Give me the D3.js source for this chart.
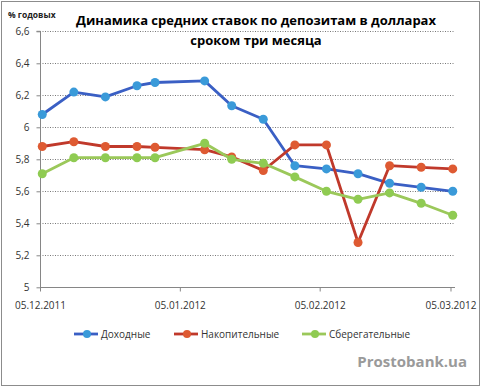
<!DOCTYPE html>
<html>
<head>
<meta charset="utf-8">
<script src="https://cdn.jsdelivr.net/npm/d3@7"></script>
<style>
  body { margin: 0; background: #fff; }
  svg { display: block; font-family: "Open Sans", sans-serif; }
</style>
</head>
<body>
<svg id="chart" width="483" height="388"></svg>
<script>
const dates = ["2011-12-05", "2011-12-12", "2011-12-19", "2011-12-26", "2011-12-30",
    "2012-01-10", "2012-01-16", "2012-01-23", "2012-01-30", "2012-02-06",
    "2012-02-13", "2012-02-20", "2012-02-27", "2012-03-05"];

const dokhodnye = [6.08, 6.22, 6.19, 6.26, 6.28, 6.29, 6.135, 6.05, 5.76, 5.74, 5.71, 5.65, 5.625, 5.60];
const nakopitelnye = [5.88, 5.91, 5.88, 5.88, 5.875, 5.86, 5.815, 5.73, 5.89, 5.89, 5.28, 5.76, 5.75, 5.74];
const sberegatelnye = [5.71, 5.81, 5.81, 5.81, 5.81, 5.90, 5.80, 5.775, 5.69, 5.60, 5.55, 5.59, 5.525, 5.45];

const yTicks = [5, 5.2, 5.4, 5.6, 5.8, 6, 6.2, 6.4, 6.6];
const xTicks = ["2011-12-05", "2012-01-05", "2012-02-05", "2012-03-05"];

const series = [
    { name: "Доходные", values: dokhodnye, line: "#3a5fc4", marker: "#3a9ad9" },
    { name: "Накопительные", values: nakopitelnye, line: "#c0392b", marker: "#de5a32" },
    { name: "Сберегательные", values: sberegatelnye, line: "#9bc85a", marker: "#8fcb52" }
];

const parse = d3.timeParse("%Y-%m-%d");
const fmt = d3.timeFormat("%d.%m.%Y");
const svg = d3.select("#chart");

const plotLeft = 40, plotRight = 455, plotTop = 31.3, plotBottom = 287.3;

const x = d3.scaleTime()
    .domain([parse("2011-12-05"), parse("2012-03-06")])
    .range([plotLeft, plotRight]);
const y = d3.scaleLinear().domain([5, 6.6]).range([plotBottom, plotTop]);
const halfDay = (x(parse("2011-12-06")) - x(parse("2011-12-05"))) / 2;

// border
svg.append("rect")
    .attr("x", 1.5).attr("y", 1.5)
    .attr("width", 478).attr("height", 384)
    .attr("fill", "none").attr("stroke", "#8c8c8c");

// gridlines
svg.append("g").selectAll("line")
    .data(yTicks.filter(d => d > 5))
    .join("line")
    .attr("x1", plotLeft).attr("x2", plotRight - 1)
    .attr("y1", d => Math.round(y(d)) + 0.5)
    .attr("y2", d => Math.round(y(d)) + 0.5)
    .attr("stroke", "#555")
    .attr("stroke-width", 0.8)
    .attr("stroke-dasharray", "1,1.5");

// y axis
const yAxis = svg.append("g")
    .attr("transform", `translate(${plotLeft + 0.5},0)`)
    .call(d3.axisLeft(y).tickValues(yTicks).tickSize(4).tickPadding(7)
        .tickFormat(d => d3.format("~g")(d).replace(".", ",")));
yAxis.select(".domain").attr("stroke", "#868686").attr("d", `M-4,${plotTop}H0V${plotBottom}`);
yAxis.selectAll(".tick line").attr("stroke", "#868686");
yAxis.selectAll(".tick text").attr("fill", "#333").style("font-size", "10px")
    .style("font-family", "'Open Sans', sans-serif");

// x axis
const xAxis = svg.append("g")
    .attr("transform", `translate(0,${Math.round(plotBottom) + 0.5})`)
    .call(d3.axisBottom(x).tickValues(xTicks.map(parse)).tickSize(4).tickPadding(10)
        .tickFormat(fmt));
xAxis.select(".domain").attr("stroke", "#868686").attr("d", `M${plotLeft},0H${plotRight}`);
xAxis.selectAll(".tick line").attr("stroke", "#868686");
xAxis.selectAll(".tick text").attr("fill", "#333").style("font-size", "10px")
    .style("font-family", "'Open Sans', sans-serif");

// lines and markers
const line = d3.line()
    .x((d, i) => x(parse(dates[i])) + halfDay)
    .y(d => y(d));

series.forEach(s => {
    const g = svg.append("g");
    g.append("path")
        .attr("d", line(s.values))
        .attr("fill", "none")
        .attr("stroke", s.line)
        .attr("stroke-width", 2.8)
        .attr("stroke-linejoin", "round");
    g.selectAll("circle")
        .data(s.values)
        .join("circle")
        .attr("cx", (d, i) => x(parse(dates[i])) + halfDay)
        .attr("cy", d => y(d))
        .attr("r", 4.5)
        .attr("fill", s.marker);
});

// title
svg.append("text")
    .attr("x", 256).attr("y", 25)
    .attr("text-anchor", "middle")
    .style("font-size", "13px").style("font-weight", "bold")
    .text("Динамика средних ставок по депозитам в долларах");
svg.append("text")
    .attr("x", 256).attr("y", 45)
    .attr("text-anchor", "middle")
    .style("font-size", "13px").style("font-weight", "bold")
    .text("сроком три месяца");

svg.append("text")
    .attr("x", 8).attr("y", 18)
    .style("font-size", "8.5px").style("font-weight", "bold")
    .attr("fill", "#222")
    .text("% годовых");

// legend
const legendX = [74, 174, 302];
series.forEach((s, i) => {
    const g = svg.append("g").attr("transform", `translate(${legendX[i]},334)`);
    g.append("line").attr("x1", 0).attr("x2", 24).attr("y1", 0).attr("y2", 0)
        .attr("stroke", s.line).attr("stroke-width", 2.8);
    g.append("circle").attr("cx", 13).attr("cy", 0).attr("r", 4).attr("fill", s.marker);
    g.append("text").attr("x", 27).attr("y", 3.5)
        .style("font-size", "10px").attr("fill", "#333")
        .text(s.name);
});

svg.append("text")
    .attr("x", 467).attr("y", 367)
    .attr("text-anchor", "end")
    .style("font-size", "15px").style("font-weight", "bold")
    .attr("fill", "#9a9a9a")
    .text("Prostobank.ua");
</script>
</body>
</html>
